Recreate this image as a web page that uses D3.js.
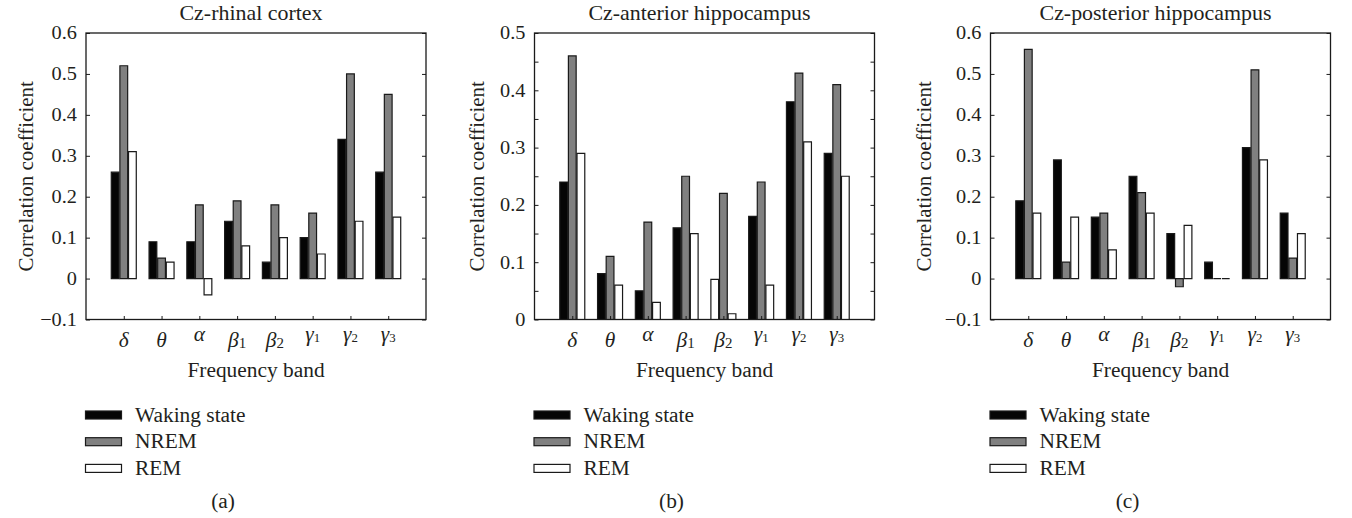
<!DOCTYPE html>
<html>
<head>
<meta charset="utf-8">
<script src="https://cdn.jsdelivr.net/npm/d3@7"></script>
<style>
  body {
    margin: 0;
    background: #fff;
  }
  svg {
    display: block;
    font-family: 'Liberation Serif', 'Times New Roman', serif;
  }
</style>
</head>
<body>
<svg id="chart" width="1352" height="518"></svg>
<script>
const bands = ['δ', 'θ', 'α', 'β1', 'β2', 'γ1', 'γ2', 'γ3'];
const states = ['Waking state', 'NREM', 'REM'];
const titles = ['Cz-rhinal cortex', 'Cz-anterior hippocampus', 'Cz-posterior hippocampus'];
const tags = ['(a)', '(b)', '(c)'];

// correlation coefficient per band, one list per state
const rhinalWake = [0.26, 0.09, 0.09, 0.14, 0.04, 0.10, 0.34, 0.26];
const rhinalNrem = [0.52, 0.05, 0.18, 0.19, 0.18, 0.16, 0.50, 0.45];
const rhinalRem  = [0.31, 0.04, -0.04, 0.08, 0.10, 0.06, 0.14, 0.15];

const anteriorWake = [0.24, 0.08, 0.05, 0.16, 0.07, 0.18, 0.38, 0.29];
const anteriorNrem = [0.46, 0.11, 0.17, 0.25, 0.22, 0.24, 0.43, 0.41];
const anteriorRem  = [0.29, 0.06, 0.03, 0.15, 0.01, 0.06, 0.31, 0.25];

const posteriorWake = [0.19, 0.29, 0.15, 0.25, 0.11, 0.04, 0.32, 0.16];
const posteriorNrem = [0.56, 0.04, 0.16, 0.21, -0.02, 0.00, 0.51, 0.05];
const posteriorRem  = [0.16, 0.15, 0.07, 0.16, 0.13, 0.00, 0.29, 0.11];

const yDomains = [[-0.1, 0.6], [0, 0.5], [-0.1, 0.6]];
const yTickSteps = [0.1, 0.05, 0.1];

const series = [
  [rhinalWake, rhinalNrem, rhinalRem],
  [anteriorWake, anteriorNrem, anteriorRem],
  [posteriorWake, posteriorNrem, posteriorRem],
];

// layout only
const panels = [
  {left: 86, ylab: 53, hollow: []},
  {left: 534.5, ylab: 51, hollow: ['β2']},
  {left: 990.5, ylab: 60, hollow: []},
];
const plotW = 340, plotTop = 33, plotBottom = 319.5;
const fills = ['#050505', '#808080', '#ffffff'];
const ink = '#231f20';
const edge = '#1a1a1a';
const sx = 1.07; // glyphs in the source are a bit wider than Liberation Serif

const svg = d3.select('#chart');

const fmt = v => Math.abs(v) < 1e-9 ? '0' : d3.format('.1f')(v);

// horizontal text, slightly widened
function txt(sel, x, y, s, size, anchor = 'middle') {
  return sel.append('text')
    .attr('transform', `translate(${x},${y}) scale(${sx},1)`)
    .attr('text-anchor', anchor)
    .attr('font-size', size)
    .attr('fill', ink)
    .text(s)
    ;
}

function ticksOnly(g) {
  g.attr('font-family', null).attr('font-size', null);
  g.select('.domain').remove();
  g.selectAll('text').remove();
  g.selectAll('line').attr('stroke', edge);
}

panels.forEach((p, k) => {
  const g = svg.append('g');
  const x = d3.scalePoint()
    .domain(bands)
    .range([p.left, p.left + plotW])
    .padding(1)
    ;
  const inner = d3.scaleBand()
    .domain(states)
    .range([-12.5, 12.5])
    .paddingInner(0.1)
    ;
  const [y0, y1] = yDomains[k];
  const y = d3.scaleLinear().domain([y0, y1]).range([plotBottom, plotTop]);
  const tickVals = d3.range(y0, y1 + 1e-6, yTickSteps[k]);
  const labelVals = tickVals.filter(v => Math.abs(Math.round(v * 100) % 10) < 1e-6);

  // bars (paths so zero values still show as a line)
  const rows = [];
  states.forEach((s, si) => {
    series[k][si].forEach((v, bi) => rows.push({s, si, band: bands[bi], v}));
  });
  g.append('g')
    .selectAll('path')
    .data(rows)
    .join('path')
      .attr('d', d => {
        const xa = x(d.band) + inner(d.s), xb = xa + inner.bandwidth();
        return `M${xa},${y(0)}H${xb}V${y(d.v)}H${xa}Z`;
      })
      .attr('fill', d => d.si === 0 && p.hollow.includes(d.band) ? '#fff' : fills[d.si])
      .attr('stroke', edge)
      .attr('stroke-width', 1.2)
    ;

  // inward ticks on left, right and bottom
  g.append('g')
    .attr('transform', `translate(${p.left},0)`)
    .call(d3.axisLeft(y).tickValues(tickVals).tickSizeInner(-4).tickSizeOuter(0))
    .call(ticksOnly)
    ;
  g.append('g')
    .attr('transform', `translate(${p.left + plotW},0)`)
    .call(d3.axisRight(y).tickValues(tickVals).tickSizeInner(-4).tickSizeOuter(0))
    .call(ticksOnly)
    ;
  g.append('g')
    .attr('transform', `translate(0,${plotBottom})`)
    .call(d3.axisBottom(x).tickSizeInner(-3.5).tickSizeOuter(0))
    .call(ticksOnly)
    ;

  labelVals.forEach(v => {
    txt(g, p.left - 9, y(v), fmt(v), 19, 'end').attr('dy', '0.34em');
  });

  // frame
  g.append('rect')
    .attr('x', p.left)
    .attr('y', plotTop)
    .attr('width', plotW)
    .attr('height', plotBottom - plotTop)
    .attr('fill', 'none')
    .attr('stroke', edge)
    .attr('stroke-width', 1.3)
    ;

  // greek band labels
  bands.forEach(b => {
    const t = txt(g, x(b), plotBottom + ('αγ'.includes(b[0]) ? 21 : 27), null, 20);
    t.append('tspan')
      .attr('font-style', 'italic')
      .text(b[0])
      ;
    if (b.length > 1) {
      t.append('tspan')
        .attr('font-size', b[0] === 'β' ? 14 : 12)
        .attr('dy', 1.5)
        .text(b.slice(1))
        ;
    }
  });

  txt(g, p.left + plotW / 2, 377, 'Frequency band', 20);

  g.append('text')
    .attr('transform', `translate(${p.left - p.ylab},${(plotTop + plotBottom) / 2}) rotate(-90)`)
    .attr('text-anchor', 'middle')
    .attr('font-size', 21)
    .attr('fill', ink)
    .text('Correlation coefficient')
    ;

  txt(g, p.left + plotW / 2 - 5, 19.5, titles[k], 20.5);

  // legend
  const leg = g.append('g')
    .selectAll('g')
    .data(states)
    .join('g')
      .attr('transform', (d, i) => `translate(${p.left - 0.5},${415 + i * 26.7})`)
    ;
  leg.append('rect')
    .attr('x', 0)
    .attr('y', -4)
    .attr('width', 36)
    .attr('height', 8)
    .attr('fill', (d, i) => fills[i])
    .attr('stroke', edge)
    .attr('stroke-width', 1.2)
    ;
  leg.each(function (d) {
    txt(d3.select(this), 49.5, 6.7, d, 20, 'start');
  });

  txt(g, p.left + 137, 508, tags[k], 20);
});
</script>
</body>
</html>
